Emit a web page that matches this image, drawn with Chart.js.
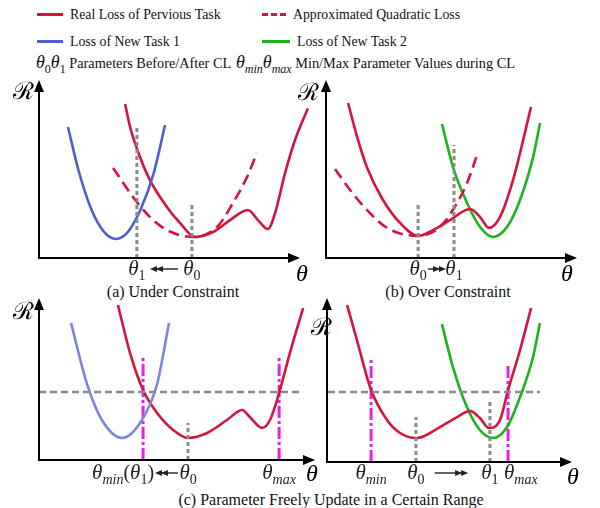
<!DOCTYPE html>
<html>
<head>
<meta charset="utf-8">
<script src="https://cdn.jsdelivr.net/npm/chart.js@4"></script>
<style>
  body { margin: 0; background: #fff; }
  #wrap { position: relative; width: 600px; height: 508px; font-family: "Liberation Serif", serif; color: #111; }
  canvas { position: absolute; left: 0; top: 0; pointer-events: none; }
  .lg { position: absolute; font-size: 13.8px; line-height: 18px; white-space: nowrap; }
  .lg3 { font-size: 14.3px; }
  .sw { display: inline-block; width: 26px; height: 0; vertical-align: middle; margin-right: 7px; margin-top: -2px; }
  .m { font-style: italic; font-size: 18px; }
  .m sub { font-size: 12px; font-style: normal; }
  .m sub i { font-style: italic; }
  .cap { position: absolute; font-size: 16px; line-height: 18px; white-space: nowrap; transform: translateX(-50%); }
</style>
</head>
<body>
<div id="wrap">
  <div class="lg" style="left:37px;top:6px"><span class="sw" style="border-top:3px solid #d5133b"></span>Real Loss of Pervious Task</div>
  <div class="lg" style="left:262px;top:6px"><span class="sw" style="border-top:3px dashed #d5133b;width:24px"></span>Approximated Quadratic Loss</div>
  <div class="lg" style="left:37px;top:33px"><span class="sw" style="border-top:3px solid #4d5fcf"></span>Loss of New Task 1</div>
  <div class="lg" style="left:262px;top:33px"><span class="sw" style="border-top:3px solid #1cb31c;width:28px"></span>Loss of New Task 2</div>
  <div class="lg lg3" style="left:36px;top:53px"><span class="m">θ<sub>0</sub>θ<sub>1</sub></span> Parameters Before/After CL</div>
  <div class="lg lg3" style="left:236px;top:53px"><span class="m">θ<sub><i>min</i></sub>θ<sub><i>max</i></sub></span> Min/Max Parameter Values during CL</div>
  <div class="cap" style="left:173px;top:283px">(a) Under Constraint</div>
  <div class="cap" style="left:448px;top:283px">(b) Over Constraint</div>
  <div class="cap" style="left:331px;top:491px">(c) Parameter Freely Update in a Certain Range</div>
  <canvas id="pa" width="600" height="508"></canvas>
  <canvas id="pb" width="600" height="508"></canvas>
  <canvas id="pc" width="600" height="508"></canvas>
  <canvas id="pd" width="600" height="508"></canvas>
</div>
<script>
// curves, x = theta (0-100 along axis), y = R (0-100 up axis)

// (a) under constraint
const aReal = [[33,86.5],[34.9,73.6],[38.7,56.7],[42.5,43.8],[49,28.7],[54,19.7],[59.8,11.8],[66.7,14.6],[73.2,21.3],[80,27],[83.9,21.3],[87.7,16.3],[90.4,25],[94.3,47.8],[98.1,66.3],[103,84]];
const aQuad = [[28.4,50.6],[36,34.3],[42.5,23],[49,15.7],[59,11.8],[68.2,17.4],[74.3,30.9],[79.7,45.5],[83.5,59]];
const aTask1 = [[11.1,73.6],[15,50],[20,27.5],[25,14.5],[29.5,10.7],[34,14.5],[39,27.5],[44,48],[48.3,74.7]];
const aTheta0 = [58.6, 31.5];  // position, height of dotted marker
const aTheta1 = [37.5, 74.7];

// (b) over constraint
const bReal = [[8.8,87.1],[12.4,68],[16.3,51],[22.7,32.6],[29.5,19.7],[36.7,12.4],[42.6,15.7],[49.4,21.3],[57.4,27.5],[61.4,23],[64.9,16.9],[69.3,23],[74.5,43.8],[81.7,84.8]];
const bQuad = [[3.6,50],[9.6,38.2],[16.3,27],[24.3,16.9],[36.7,12.4],[45.4,17.4],[52.2,30.9],[56.2,42.1],[60.6,59.6]];
const bTask2 = [[46.2,75.3],[50.6,51.1],[56.2,30.9],[61.4,17.4],[66.5,11.8],[72.1,17.4],[77.3,32.6],[82.5,56.7],[85.3,75.8]];
const bTheta0 = [36.7, 30.9];
const bTheta1 = [51, 63.5];

// (c) free update, new task 1
const cReal = [[28.6,95.7],[33,66],[37.7,43.2],[42.8,29],[48.6,18.5],[54,13.6],[60.9,16.7],[68.1,24.7],[73.6,30.9],[76.4,26.5],[80.8,19.8],[83.7,24.7],[87.3,43.2],[90.9,66],[95.7,93.8]];
const cTask1 = [[11.6,84.6],[17.4,46.9],[22.8,24.7],[30.1,13.6],[37.3,24.7],[42.8,46.9],[47.1,84.6]];
const cLevel = [0, 95.7, 42];   // from, to, R level
const cTheta0 = [54, 22.8];
const cThetaMin = [37.7, 63];
const cThetaMax = [87, 63];

// (d) free update, new task 2
const dReal = [[8.2,95.7],[12.2,74.4],[18,43.9],[24.5,25.6],[29.8,17.7],[36.7,14.6],[46.1,21.3],[53.1,27.4],[58.4,31.1],[62.4,26.8],[66.1,20.7],[70.6,25.6],[73.9,43.9],[78.8,68.3],[83.3,93.9]];
const dTask2 = [[46.9,84.1],[51.4,57.9],[57.1,33.5],[62.4,19.5],[67.8,14.6],[73.5,21.3],[78.8,39.6],[84.1,64],[86.9,84.8]];
const dLevel = [0.4, 86.9, 42.7];
const dTheta0 = [36.3, 27.4];
const dTheta1 = [66.5, 37.8];
const dThetaMin = [18, 62.2];
const dThetaMax = [73.9, 60.4];

const RED = '#d5133b', BLUE = '#4d5fcf', BLUE_L = '#7b87dc', GREEN = '#1cb31c', MAG = '#ec1ee0', GRAY = '#8a8a8a';
const FONT = '"Liberation Serif", "DejaVu Serif", serif';

function pts(a) { return a.map(p => ({x: p[0], y: p[1]})); }
function curve(a, color, dash) {
  return {data: pts(a), borderColor: color, borderWidth: 2.6, borderDash: dash || [], pointRadius: 0,
          cubicInterpolationMode: 'monotone', clip: false};
}
function vline(m, color, dash) {
  return {data: [{x: m[0], y: 0}, {x: m[0], y: m[1]}], borderColor: color, borderWidth: 3,
          borderDash: dash, pointRadius: 0, tension: 0, clip: false};
}
function hline(m) {
  return {data: [{x: m[0], y: m[2]}, {x: m[1], y: m[2]}], borderColor: GRAY, borderWidth: 2.5,
          borderDash: [7, 4], pointRadius: 0, tension: 0, clip: false};
}
const DOT = [4, 3], DASHDOT = [12, 3, 3, 3];

// text pieces for theta labels
const th = s => [{t: 'θ', f: 'italic 21px ' + FONT}, {t: s, f: (/\d/.test(s) ? '' : 'italic ') + '14px ' + FONT, dy: 5}];
const par = s => ({t: s, f: '20px ' + FONT});

function drawParts(ctx, parts, x, y, align) {
  let w = 0;
  parts.forEach(p => { ctx.font = p.f; w += ctx.measureText(p.t).width; });
  let cx = align === 'right' ? x - w : align === 'left' ? x : x - w / 2;
  parts.forEach(p => {
    ctx.font = p.f;
    ctx.fillText(p.t, cx, y + (p.dy || 0));
    cx += ctx.measureText(p.t).width;
  });
}

function arrowHead(ctx, x, y, dir) {
  ctx.beginPath();
  ctx.moveTo(x, y);
  ctx.lineTo(x - dir * 7, y - 3);
  ctx.lineTo(x - dir * 7, y + 3);
  ctx.closePath();
  ctx.fill();
}

const decor = {
  id: 'decor',
  afterDatasetsDraw(chart, args, o) {
    const {ctx, chartArea: ca, scales: {x}} = chart;
    ctx.save();
    ctx.strokeStyle = '#000'; ctx.fillStyle = '#000'; ctx.lineWidth = 2;
    // axes with arrows
    ctx.beginPath();
    ctx.moveTo(ca.left, ca.top + 8); ctx.lineTo(ca.left, ca.bottom); ctx.lineTo(ca.right - 10, ca.bottom);
    ctx.stroke();
    ctx.beginPath();
    ctx.moveTo(ca.left, ca.top); ctx.lineTo(ca.left - 5, ca.top + 12); ctx.lineTo(ca.left + 5, ca.top + 12); ctx.closePath(); ctx.fill();
    ctx.beginPath();
    ctx.moveTo(ca.right, ca.bottom); ctx.lineTo(ca.right - 12, ca.bottom - 5); ctx.lineTo(ca.right - 12, ca.bottom + 5); ctx.closePath(); ctx.fill();
    // axis names
    ctx.textBaseline = 'alphabetic';
    ctx.font = '24px "DejaVu Serif", ' + FONT;
    ctx.fillText('ℛ', ca.left + o.r[0] - 9, ca.top + o.r[1] + 12);
    drawParts(ctx, [{t: 'θ', f: 'italic 24px ' + FONT}], ca.right + o.t[0], ca.bottom + o.t[1], 'center');
    ctx.fillStyle = '#222';
    o.labels.forEach(l => drawParts(ctx, l.p, x.getPixelForValue(l.v) + (l.dx || 0), ca.bottom + o.ly, l.a || 'center'));
    // direction arrows between theta labels
    o.arrows.forEach(a => {
      const x0 = x.getPixelForValue(a[0]), x1 = x.getPixelForValue(a[1]);
      const y = ca.bottom + o.ly - 6, dir = x1 > x0 ? 1 : -1;
      ctx.lineWidth = 1.4; ctx.strokeStyle = '#222';
      ctx.beginPath(); ctx.moveTo(x0, y); ctx.lineTo(x1 - dir * 6, y); ctx.stroke();
      arrowHead(ctx, x1, y, dir); arrowHead(ctx, x1 - dir * 6, y, dir);
    });
    ctx.restore();
  }
};

function panel(id, box, datasets, deco) {
  new Chart(document.getElementById(id), {
    type: 'line',
    data: {datasets},
    options: {
      responsive: false, animation: false, events: [],
      layout: {padding: {left: box[0], top: box[1], right: 600 - box[2], bottom: 508 - box[3]}},
      scales: {x: {type: 'linear', min: 0, max: 100, display: false}, y: {min: 0, max: 100, display: false}},
      plugins: {legend: {display: false}, tooltip: {enabled: false}, decor: deco}
    },
    plugins: [decor]
  });
}

panel('pa', [39, 80, 300, 258], [
  vline(aTheta1, GRAY, DOT), vline(aTheta0, GRAY, DOT),
  curve(aTask1, BLUE), curve(aQuad, RED, [11, 6]), curve(aReal, RED)
], {r: [-17, 7], t: [2, 23], ly: 17,
    labels: [{v: aTheta1[0], p: th('1')}, {v: aTheta0[0], p: th('0')}], arrows: [[53.3, 42.5]]});

panel('pb', [326, 80, 577, 258], [
  vline(bTheta0, GRAY, DOT), vline(bTheta1, GRAY, DOT),
  curve(bQuad, RED, [11, 6]), curve(bReal, RED), curve(bTask2, GREEN)
], {r: [-19, 8], t: [-10, 23], ly: 17,
    labels: [{v: bTheta0[0], p: th('0')}, {v: bTheta1[0], p: th('1')}], arrows: [[40.6, 47.8]]});

panel('pc', [39, 298, 315, 460], [
  hline(cLevel), vline(cTheta0, GRAY, DOT),
  curve(cTask1, BLUE_L), curve(cReal, RED),
  vline(cThetaMin, MAG, DASHDOT), vline(cThetaMax, MAG, DASHDOT)
], {r: [-17, 9], t: [-3, 21], ly: 19,
    labels: [{v: cThetaMin[0], p: th('min').concat([par('(')], th('1'), [par(')')]), a: 'right', dx: 11},
             {v: cTheta0[0], p: th('0')}, {v: cThetaMax[0], p: th('max')}],
    arrows: [[50.4, 42]]});

panel('pd', [327, 298, 572, 462], [
  hline(dLevel), vline(dTheta0, GRAY, DOT), vline(dTheta1, GRAY, DOT),
  curve(dReal, RED), curve(dTask2, GREEN),
  vline(dThetaMin, MAG, DASHDOT), vline(dThetaMax, MAG, DASHDOT)
], {r: [-7, 25], t: [1, 22], ly: 17,
    labels: [{v: dThetaMin[0], p: th('min')}, {v: dTheta0[0], p: th('0')}, {v: dTheta1[0], p: th('1')},
             {v: dThetaMax[0], p: th('max'), a: 'left', dx: -4}],
    arrows: [[44, 57.6]]});
</script>
</body>
</html>
